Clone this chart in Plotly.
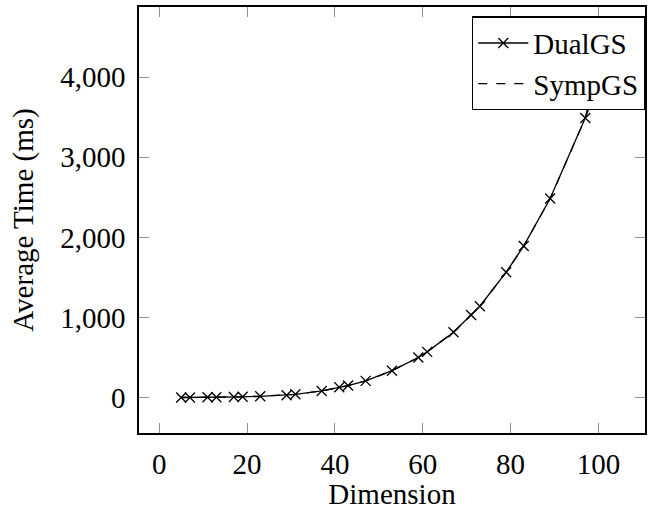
import plotly.graph_objects as go

# Data
dimension = [5, 7, 11, 13, 17, 19, 23, 29, 31, 37, 41, 43, 47, 53, 59, 61, 67, 71, 73, 79, 83, 89, 97, 101]
dualgs_ms = [0.5, 1, 3, 4, 7, 9, 15, 28, 40, 82, 128, 150, 208, 335, 500, 570, 815, 1030, 1140, 1565, 1893, 2485, 3490, 4070]
sympgs_ms = [0.5, 1, 3, 4, 7, 9, 15, 28, 40, 82, 128, 150, 208, 335, 500, 570, 815, 1030, 1140, 1565, 1893, 2485, 3490, 4430]

x_ticks = [0, 20, 40, 60, 80, 100]
y_ticks = [0, 1000, 2000, 3000, 4000]

FONT = "Liberation Serif, DejaVu Serif, serif"
FS = 29

fig = go.Figure()
fig.add_trace(go.Scatter(
    x=dimension, y=dualgs_ms, name="DualGS", mode="lines+markers",
    line=dict(color="black", width=1.3),
    marker=dict(symbol="x-thin-open", size=10, color="black", line=dict(color="black", width=1.3)),
))
fig.add_trace(go.Scatter(
    x=dimension, y=sympgs_ms, name="SympGS", mode="lines",
    line=dict(color="black", width=1.3, dash="dash"),
))

axis_common = dict(
    showgrid=False, zeroline=False, showline=True, linecolor="black", linewidth=1.5,
    mirror="ticks", ticks="inside", ticklen=10, tickcolor="#909090", tickwidth=1,
    tickfont=dict(family=FONT, size=FS, color="black"),
)

fig.update_xaxes(
    range=[-4.6, 110.6], tickvals=x_ticks, ticklabelstandoff=4,
    title=dict(text="Dimension", font=dict(family=FONT, size=FS, color="black"), standoff=8),
    **axis_common,
)
fig.update_yaxes(
    range=[-443, 4877], tickvals=y_ticks, tickformat=",d", ticklabelstandoff=6,
    title=dict(text="Average Time (ms)", font=dict(family=FONT, size=FS, color="black"), standoff=18),
    **axis_common,
)

fig.update_layout(
    width=649, height=510,
    margin=dict(l=139, r=2, t=7, b=72),
    paper_bgcolor="white", plot_bgcolor="white",
    font=dict(family=FONT, size=FS, color="black"),
    showlegend=True,
    legend=dict(
        x=1.0, xanchor="right", y=0.978, yanchor="top",
        bgcolor="white", bordercolor="black", borderwidth=1.3,
        font=dict(family=FONT, size=FS, color="black"),
        itemwidth=50, tracegroupgap=0,
    ),
)

fig.write_html("out.html")
